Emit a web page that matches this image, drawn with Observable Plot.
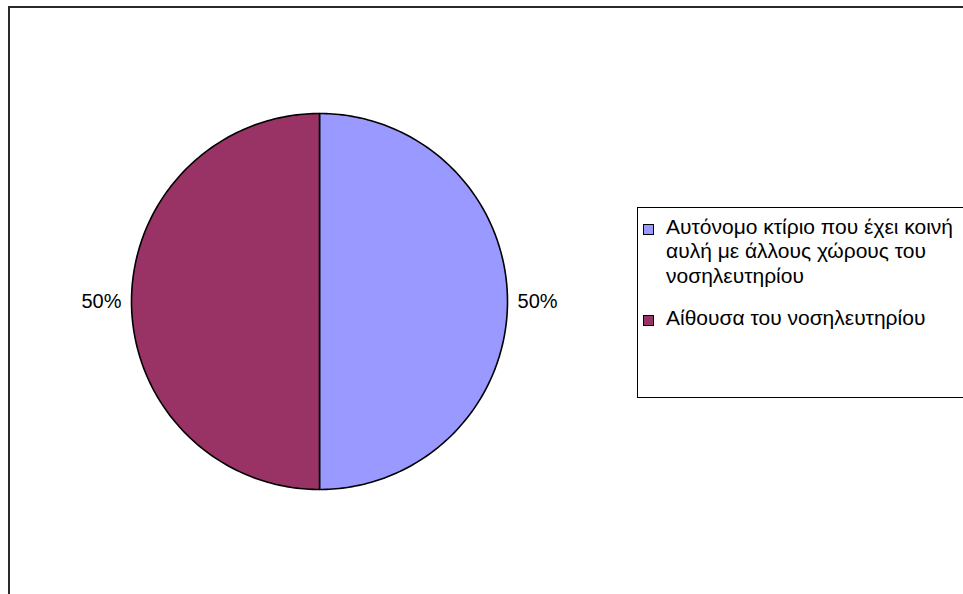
<!DOCTYPE html>
<html>
<head>
<meta charset="utf-8">
<script src="https://cdn.jsdelivr.net/npm/d3@7"></script>
<script src="https://cdn.jsdelivr.net/npm/@observablehq/plot@0.6"></script>
<style>
  html, body { margin: 0; padding: 0; background: #fff; }
  #wrap { position: relative; width: 963px; height: 594px; overflow: hidden; font-family: "Liberation Sans", Arial, sans-serif; }
  #frame { position: absolute; left: 8px; top: 6px; width: 2000px; height: 2000px; border-left: 2px solid #2a2a2a; border-top: 2px solid #2a2a2a; }
  #chart { position: absolute; left: 0; top: 0; }
  #legend { position: absolute; left: 637px; top: 207px; width: 400px; height: 189px; border: 1px solid #000; }
  .item { position: absolute; left: 28px; width: 300px; font-size: 21px; line-height: 24.5px; color: #000; }
  .sw { position: absolute; left: -23px; top: 9px; width: 9px; height: 9px; border: 1px solid #000; }
</style>
</head>
<body>
<div id="wrap">
  <div id="frame"></div>
  <div id="chart"></div>
  <div id="legend"></div>
</div>
<script>
const categories = ["Αυτόνομο κτίριο που έχει κοινή αυλή με άλλους χώρους του νοσηλευτηρίου", "Αίθουσα του νοσηλευτηρίου"];
const values = [50, 50];
const colors = ["#9999FF", "#993366"];

const total = d3.sum(values);
const pie = d3.pie().sort(null).value(d => d.value);
const arcs = pie(categories.map((c, i) => ({category: c, value: values[i], color: colors[i]})));

const marks = [];
for (const a of arcs) {
  const pts = [{x: 0, y: 0}];
  const n = 180;
  for (let k = 0; k <= n; k++) {
    const t = a.startAngle + (a.endAngle - a.startAngle) * k / n;
    pts.push({x: Math.sin(t), y: Math.cos(t)});
  }
  marks.push(Plot.line(pts, {x: "x", y: "y", fill: a.data.color, stroke: "#000", strokeWidth: 1.6, curve: "linear-closed"}));
}
const labelData = arcs.map(a => {
  const m = (a.startAngle + a.endAngle) / 2;
  return {x: 1.16 * Math.sin(m), y: 1.16 * Math.cos(m), label: Math.round(a.data.value / total * 100) + "%"};
});
marks.push(Plot.text(labelData, {x: "x", y: "y", text: "label", fontSize: 20, fill: "#000", fontFamily: "Liberation Sans, Arial, sans-serif"}));

const svg = Plot.plot({
  width: 963, height: 594, margin: 0,
  x: {domain: [-1, 1], range: [131, 507], axis: null},
  y: {domain: [-1, 1], range: [489, 113], axis: null},
  style: {background: "transparent"},
  marks
});
document.getElementById("chart").appendChild(svg);

const legend = document.getElementById("legend");
const tops = [6.5, 97.5];
categories.forEach((c, i) => {
  const it = document.createElement("div");
  it.className = "item";
  it.style.top = tops[i] + "px";
  const sw = document.createElement("div");
  sw.className = "sw";
  sw.style.background = colors[i];
  it.appendChild(sw);
  it.appendChild(document.createTextNode(c));
  legend.appendChild(it);
});
</script>
</body>
</html>
